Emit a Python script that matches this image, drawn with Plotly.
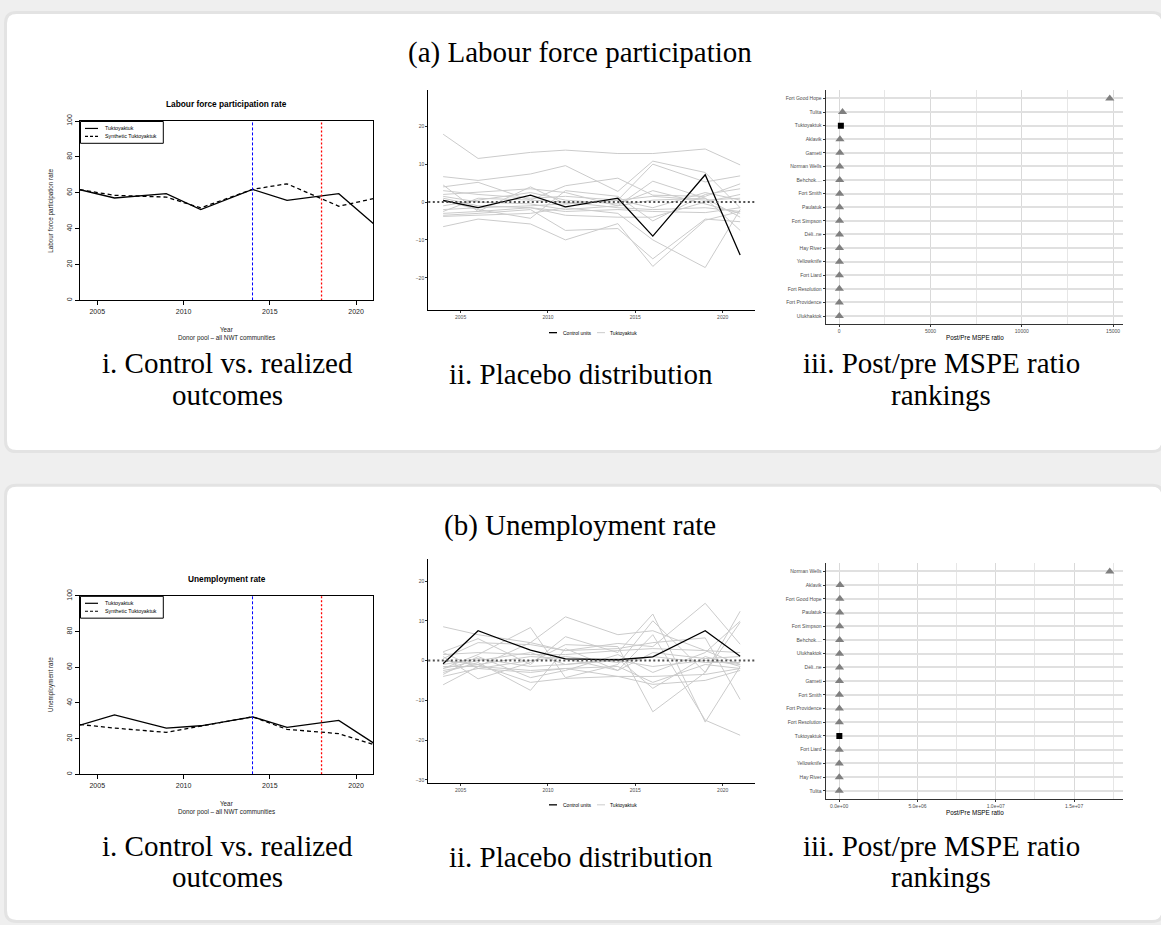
import plotly.graph_objects as go

W, H = 1161, 925

# ---------------- data ----------------
years = [2004, 2006, 2009, 2011, 2014, 2016, 2019, 2021]
treatment_year = 2014
second_year = 2018
treated_unit = "Tuktoyaktuk"

lfp_tuk = [61.7, 57.1, 59.5, 50.6, 61.9, 55.8, 59.5, 42.9]
lfp_synth = [61.7, 58.6, 57.6, 51.6, 61.9, 65.0, 52.5, 56.7]
unemp_tuk = [27.6, 33.3, 25.9, 27.2, 32.2, 26.3, 30.2, 17.6]
unemp_synth = [27.9, 25.9, 23.5, 26.9, 32.2, 25.2, 22.8, 16.7]

lfp_gap_tuk = [0.4, -1.5, 1.8, -1.3, 1.0, -9.0, 7.2, -14.0]
lfp_gap_placebos = [
    [17.9, 11.5, 13.1, 13.7, 12.8, 12.8, 14.0, 9.8],
    [6.7, 5.7, 7.4, 9.6, 2.8, 10.8, 7.8, -1.5],
    [4.0, 5.2, 0.5, 4.3, 6.3, 1.8, 1.5, 4.8],
    [4.5, -2.5, 4.0, -0.5, 0.5, 10.0, 5.3, 6.9],
    [2.0, 2.6, 3.5, 2.5, -1.0, 5.5, 1.0, -7.5],
    [-6.5, -4.5, -5.8, -10.0, -5.7, -17.0, -4.8, -2.5],
    [-3.5, -3.0, -2.0, -7.5, -7.0, -15.0, -4.5, -5.2],
    [-3.8, -3.5, -3.0, -1.5, -3.0, -10.0, -17.3, -2.0],
    [0.5, -2.0, -4.3, 3.0, 1.5, -5.0, 2.0, 3.5],
    [-2.5, 1.0, 0.5, 0.0, -1.5, -2.0, -1.5, -2.5],
    [1.0, -1.0, -1.5, -2.5, -2.0, -2.5, -2.8, -1.5],
    [3.0, 2.0, 1.0, 1.5, 0.5, 1.5, 0.5, 1.0],
    [-1.0, 0.5, 2.5, 0.5, -0.5, 3.0, -0.5, -3.0],
    [-2.0, -1.5, -1.0, -0.5, 0.5, -1.5, 2.5, 0.5],
    [1.5, 0.0, -0.5, -2.0, -1.0, 0.5, 1.0, -4.0],
    [-3.0, -2.5, -1.5, -3.5, -4.0, -4.0, 0.0, 2.0],
]

unemp_gap_tuk = [-0.8, 7.5, 2.6, 0.4, 0.2, 0.9, 7.5, 1.1]
unemp_gap_placebos = [
    [8.5, 6.5, 4.5, 11.0, 6.5, 7.5, 2.5, 2.0],
    [2.2, 5.5, -1.0, 6.0, 2.0, 11.7, -15.5, -1.5],
    [-2.0, 1.5, 8.3, -4.3, -1.0, 10.0, -3.0, 12.4],
    [-6.1, -1.5, 4.5, 2.5, 4.3, 3.5, 14.4, 4.1],
    [1.0, -4.6, -0.5, 4.0, 3.5, -12.9, -3.0, 9.6],
    [-3.0, -0.5, -7.5, 3.0, -2.5, 6.5, -15.0, -18.8],
    [-4.0, -2.0, -3.0, -2.0, -4.0, -4.0, -3.5, -2.0],
    [-2.5, -1.0, -5.5, -4.5, -4.0, -6.0, -5.0, -2.5],
    [0.5, 4.5, 4.0, 2.5, 3.0, 4.5, 5.7, -9.8],
    [1.5, 2.0, 1.5, 1.5, 2.5, 3.0, 2.5, -1.0],
    [-1.0, 0.5, -1.5, -1.0, 0.5, -7.0, 1.0, -1.5],
    [-1.5, -1.5, -2.5, -2.0, -1.5, -5.5, -1.0, -2.0],
    [0.0, -1.0, 1.0, 0.5, -2.5, 2.0, 0.5, 1.0],
    [-3.5, 1.0, -4.3, -2.5, 1.5, -3.0, 2.0, 9.9],
    [2.0, -2.0, 0.0, 1.0, -0.5, 1.0, -0.5, -0.5],
    [-2.0, 0.0, 2.0, -1.0, 0.0, -1.5, 0.0, -1.0],
]

lfp_rank_units = ["Fort Good Hope", "Tulita", "Tuktoyaktuk", "Aklavik", "Gameti",
                  "Norman Wells", "Behchok....", "Fort Smith", "Paulatuk", "Fort Simpson",
                  "Déli..ne", "Hay River", "Yellowknife", "Fort Liard", "Fort Resolution",
                  "Fort Providence", "Ulukhaktok"]
lfp_rank_ratio = [14820, 180, 90, 40, 35, 30, 26, 23, 21, 19, 17, 15, 13, 11, 9, 7, 5]

unemp_rank_units = ["Norman Wells", "Aklavik", "Fort Good Hope", "Paulatuk", "Fort Simpson",
                    "Behchok....", "Ulukhaktok", "Déli..ne", "Gameti", "Fort Smith",
                    "Fort Providence", "Fort Resolution", "Tuktoyaktuk", "Fort Liard",
                    "Yellowknife", "Hay River", "Tulita"]
unemp_rank_ratio = [17280000, 52000, 41000, 36000, 30000, 26000, 22000, 19000, 16000,
                    13000, 11000, 9000, 7000, 5000, 3500, 2000, 1000]

year_ticks = [2005, 2010, 2015, 2020]
level_ticks = [0, 20, 40, 60, 80, 100]
lfp_gap_ticks = [-20, -10, 0, 10, 20]
unemp_gap_ticks = [-30, -20, -10, 0, 10, 20]
lfp_ratio_ticks = [0, 5000, 10000, 15000]
lfp_ratio_minor = [2500, 7500, 12500]
unemp_ratio_ticks = [0, 5e6, 1e7, 1.5e7]
unemp_ratio_minor = [2.5e6, 7.5e6, 1.25e7, 1.75e7]

# ---------------- styling helpers ----------------
SANS = "Liberation Sans, Arial, sans-serif"
SERIF = "Liberation Serif, Times New Roman, serif"
CAP = 29
GRAY_LINE = "#cbcbcb"
TICK_GRAY = "#4d4d4d"


def X(px):
    return px / W


def Y(py):
    return 1 - py / H


def rrect(x0, y0, x1, y1, r):
    return (f"M {X(x0 + r)},{Y(y0)} L {X(x1 - r)},{Y(y0)} Q {X(x1)},{Y(y0)} {X(x1)},{Y(y0 + r)} "
            f"L {X(x1)},{Y(y1 - r)} Q {X(x1)},{Y(y1)} {X(x1 - r)},{Y(y1)} "
            f"L {X(x0 + r)},{Y(y1)} Q {X(x0)},{Y(y1)} {X(x0)},{Y(y1 - r)} "
            f"L {X(x0)},{Y(y0 + r)} Q {X(x0)},{Y(y0)} {X(x0 + r)},{Y(y0)} Z")


fig = go.Figure()
layout = dict(width=W, height=H, margin=dict(l=0, r=0, t=0, b=0),
              paper_bgcolor="#efefef", plot_bgcolor="rgba(0,0,0,0)",
              showlegend=False, shapes=[], annotations=[])


def ann(text, px, py, size, family=SANS, color="black", bold=False, angle=0, xanchor="center"):
    if bold:
        text = f"<b>{text}</b>"
    layout["annotations"].append(dict(
        text=text, x=X(px), y=Y(py), xref="paper", yref="paper", showarrow=False,
        xanchor=xanchor, yanchor="middle", textangle=angle,
        font=dict(size=size, family=family, color=color)))


def seg(px0, py0, px1, py1, color, width, dash="solid"):
    layout["shapes"].append(dict(type="line", xref="paper", yref="paper",
                                 x0=X(px0), y0=Y(py0), x1=X(px1), y1=Y(py1),
                                 line=dict(color=color, width=width, dash=dash)))


def axkey(i, kind):
    return f"{kind}axis" if i == 1 else f"{kind}axis{i}"


def ref(i, kind):
    return kind if i == 1 else f"{kind}{i}"


# cards
layout["shapes"].append(dict(type="path", path=rrect(5.5, 5.5, 1163, 448.5, 11), xref="paper", yref="paper",
                             fillcolor="white", line=dict(color="#e3e3e3", width=3), layer="below"))
layout["shapes"].append(dict(type="path", path=rrect(5.5, 482.5, 1163, 922.5, 11), xref="paper", yref="paper",
                             fillcolor="white", line=dict(color="#e3e3e3", width=3), layer="below"))

blocks = [
    dict(title="(a) Labour force participation", title_y=46,
         main="Labour force participation rate", ylab="Labour force participation rate",
         tuk=lfp_tuk, synth=lfp_synth, gap=lfp_gap_tuk, plac=lfp_gap_placebos,
         gap_ticks=lfp_gap_ticks, gap_range=[-28.6, 29.5],
         units=lfp_rank_units, ratio=lfp_rank_ratio,
         rticks=lfp_ratio_ticks, rtext=[str(int(v)) for v in lfp_ratio_ticks],
         rminor=lfp_ratio_minor,
         p1=(80, 373.3, 115, 296), p2=(428.3, 755, 84, 306), p3=(825.7, 1123.3, 84, 320),
         cap_y=(359, 391, 370)),
    dict(title="(b) Unemployment rate", title_y=523,
         main="Unemployment rate", ylab="Unemployment rate",
         tuk=unemp_tuk, synth=unemp_synth, gap=unemp_gap_tuk, plac=unemp_gap_placebos,
         gap_ticks=unemp_gap_ticks, gap_range=[-30.7, 25.5],
         units=unemp_rank_units, ratio=unemp_rank_ratio,
         rticks=unemp_ratio_ticks, rtext=[f"{v:.1e}" for v in unemp_ratio_ticks],
         rminor=unemp_ratio_minor,
         p1=(80, 373.3, 594, 774), p2=(428.3, 755, 557, 782.3), p3=(825.7, 1123.3, 561, 799),
         cap_y=(846, 878, 857)),
]

for bi, b in enumerate(blocks):
    base = bi * 3
    i1, i2, i3 = base + 1, base + 2, base + 3

    # ---- block title ----
    ann(b["title"], 580, b["title_y"], CAP, family=SERIF)

    # ---- panel i: R-style synthetic control plot ----
    x0, x1, y0, y1 = b["p1"]
    layout[axkey(i1, "x")] = dict(domain=[X(x0), X(x1)], anchor=ref(i1, "y"), range=[2004, 2021],
                                  tickvals=year_ticks, ticks="outside", ticklen=4, tickcolor="black",
                                  showline=True, linecolor="black", linewidth=1, mirror=True,
                                  showgrid=False, zeroline=False,
                                  tickfont=dict(size=7, family=SANS, color="#222"))
    layout[axkey(i1, "y")] = dict(domain=[Y(y1), Y(y0)], anchor=ref(i1, "x"), range=[0, 100],
                                  tickvals=level_ticks, ticks="outside", ticklen=4, tickcolor="black",
                                  tickangle=-90,
                                  showline=True, linecolor="black", linewidth=1, mirror=True,
                                  showgrid=False, zeroline=False,
                                  tickfont=dict(size=7, family=SANS, color="#222"))
    fig.add_trace(go.Scatter(x=years, y=b["tuk"], mode="lines", line=dict(color="black", width=1.3),
                             xaxis=ref(i1, "x"), yaxis=ref(i1, "y")))
    fig.add_trace(go.Scatter(x=years, y=b["synth"], mode="lines",
                             line=dict(color="black", width=1.3, dash="4px,3px"),
                             xaxis=ref(i1, "x"), yaxis=ref(i1, "y")))
    fig.add_trace(go.Scatter(x=[treatment_year, treatment_year], y=[0, 100], mode="lines",
                             line=dict(color="#0000ff", width=1, dash="3px,2px"),
                             xaxis=ref(i1, "x"), yaxis=ref(i1, "y")))
    fig.add_trace(go.Scatter(x=[second_year, second_year], y=[0, 100], mode="lines",
                             line=dict(color="red", width=1.3, dash="2px,2px"),
                             xaxis=ref(i1, "x"), yaxis=ref(i1, "y")))
    ann(b["main"], (x0 + x1) / 2, y0 - 17, 8.3, bold=True)
    ann(b["ylab"], 51, (y0 + y1) / 2, 6.3, angle=-90, color="#222")
    ann("Year", (x0 + x1) / 2, y1 + 29, 6.3, color="#222")
    ann("Donor pool – all NWT communities", (x0 + x1) / 2, y1 + 38, 6.3, color="#222")
    # legend box
    layout["shapes"].append(dict(type="rect", xref="paper", yref="paper",
                                 x0=X(x0 + 0.5), x1=X(163.3), y0=Y(y0 + 0.5), y1=Y(y0 + 22.5),
                                 line=dict(color="black", width=1), fillcolor="white"))
    seg(85, y0 + 7.5, 98, y0 + 7.5, "black", 1.2)
    seg(85, y0 + 15.5, 98, y0 + 15.5, "black", 1.2, dash="3px,2px")
    ann("Tuktoyaktuk", 102.5, y0 + 7.5, 5.3, xanchor="left")
    ann("Synthetic Tuktoyaktuk", 102.5, y0 + 15.5, 5.3, xanchor="left")

    # ---- panel ii: placebo distribution ----
    x0, x1, y0, y1 = b["p2"]
    layout[axkey(i2, "x")] = dict(domain=[X(x0), X(x1)], anchor=ref(i2, "y"), range=[2003.15, 2021.85],
                                  tickvals=year_ticks, ticks="outside", ticklen=2, tickcolor="#333",
                                  showline=True, linecolor="black", linewidth=1.2,
                                  showgrid=False, zeroline=False,
                                  tickfont=dict(size=5, family=SANS, color=TICK_GRAY))
    layout[axkey(i2, "y")] = dict(domain=[Y(y1), Y(y0)], anchor=ref(i2, "x"), range=b["gap_range"],
                                  tickvals=b["gap_ticks"],
                                  ticktext=[str(v).replace("-", "−") for v in b["gap_ticks"]],
                                  ticks="outside", ticklen=2, tickcolor="#333",
                                  showline=True, linecolor="black", linewidth=1.2,
                                  showgrid=False, zeroline=False,
                                  tickfont=dict(size=5, family=SANS, color=TICK_GRAY))
    for series in b["plac"]:
        fig.add_trace(go.Scatter(x=years, y=series, mode="lines", line=dict(color=GRAY_LINE, width=1),
                                 xaxis=ref(i2, "x"), yaxis=ref(i2, "y")))
    fig.add_trace(go.Scatter(x=years, y=b["gap"], mode="lines", line=dict(color="black", width=1.3),
                             xaxis=ref(i2, "x"), yaxis=ref(i2, "y")))
    layout["shapes"].append(dict(type="line", xref=f"{ref(i2, 'x')} domain", yref=ref(i2, "y"),
                                 x0=0, x1=1, y0=0, y1=0,
                                 line=dict(color="#505050", width=2, dash="2px,2.5px")))
    ly = y1 + 22.5
    seg(549, ly, 557, ly, "black", 1.3)
    ann("Control units", 560.5, ly, 5, xanchor="left")
    seg(597, ly, 605, ly, GRAY_LINE, 1)
    ann("Tuktoyaktuk", 608, ly, 5, xanchor="left")

    # ---- panel iii: MSPE ratio rankings ----
    x0, x1, y0, y1 = b["p3"]
    rmax = max(b["ratio"])
    pad = 0.05 * rmax
    n = len(b["units"])
    layout[axkey(i3, "x")] = dict(domain=[X(x0), X(x1)], anchor=ref(i3, "y"), range=[-pad, rmax + pad],
                                  tickvals=b["rticks"], ticktext=b["rtext"],
                                  ticks="outside", ticklen=2, tickcolor="#333",
                                  showline=True, linecolor="#333", linewidth=1.3,
                                  showgrid=True, gridcolor="#d9d9d9", gridwidth=1, zeroline=False,
                                  minor=dict(tickvals=b["rminor"], showgrid=True, gridcolor="#e6e6e6",
                                             gridwidth=0.8, ticks=""),
                                  tickfont=dict(size=5, family=SANS, color=TICK_GRAY))
    layout[axkey(i3, "y")] = dict(domain=[Y(y1), Y(y0)], anchor=ref(i3, "x"), type="category",
                                  categoryorder="array", categoryarray=list(reversed(b["units"])),
                                  range=[-0.6, n - 0.4],
                                  ticks="outside", ticklen=2, tickcolor="#333",
                                  showline=True, linecolor="#333", linewidth=1.3,
                                  showgrid=True, gridcolor="#e0e0e0", gridwidth=1.8, zeroline=False,
                                  tickfont=dict(size=5, family=SANS, color=TICK_GRAY))
    ctrl_x = [r for u, r in zip(b["units"], b["ratio"]) if u != treated_unit]
    ctrl_y = [u for u in b["units"] if u != treated_unit]
    tr_x = [r for u, r in zip(b["units"], b["ratio"]) if u == treated_unit]
    tr_y = [u for u in b["units"] if u == treated_unit]
    fig.add_trace(go.Scatter(x=ctrl_x, y=ctrl_y, mode="markers",
                             marker=dict(symbol="triangle-up", size=8, color="#7f7f7f"),
                             xaxis=ref(i3, "x"), yaxis=ref(i3, "y")))
    fig.add_trace(go.Scatter(x=tr_x, y=tr_y, mode="markers",
                             marker=dict(symbol="square", size=6, color="black"),
                             xaxis=ref(i3, "x"), yaxis=ref(i3, "y")))
    ann("Post/Pre MSPE ratio", (x0 + x1) / 2, y1 + 13.5, 6.3)

    # ---- captions ----
    cy1, cy2, cy_mid = b["cap_y"]
    ann("i. Control vs. realized", 227, cy1, CAP, family=SERIF)
    ann("outcomes", 227, cy2, CAP, family=SERIF)
    ann("ii. Placebo distribution", 581, cy_mid, CAP, family=SERIF)
    ann("iii. Post/pre MSPE ratio", 941, cy1, CAP, family=SERIF)
    ann("rankings", 941, cy2, CAP, family=SERIF)

fig.update_layout(**layout)
fig.write_html("out.html")
